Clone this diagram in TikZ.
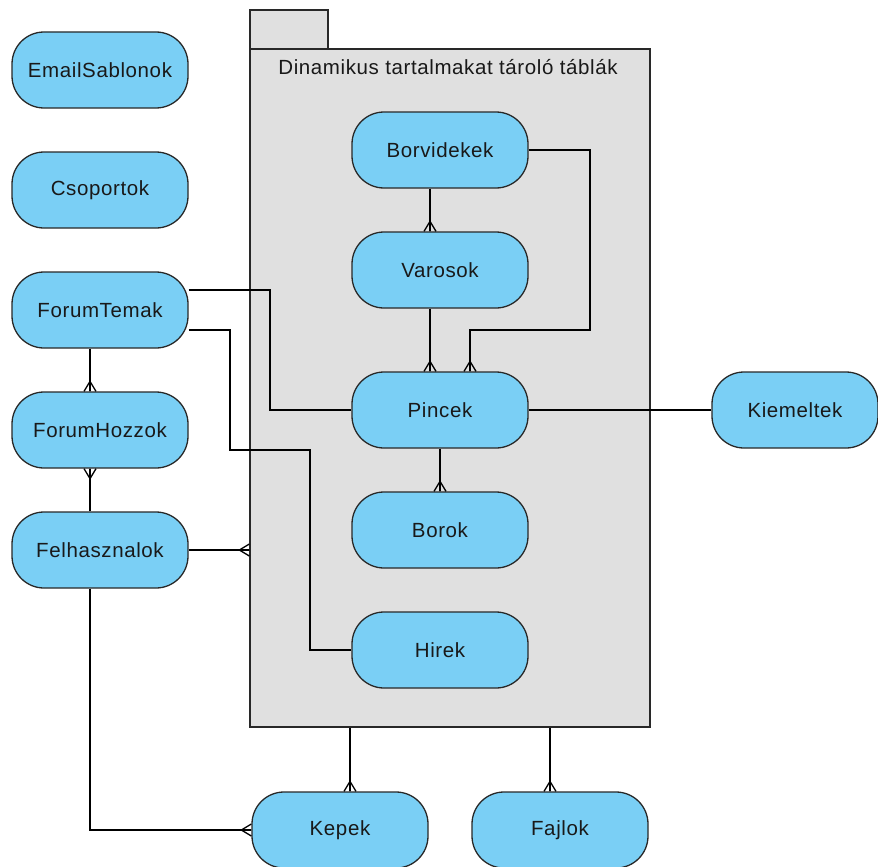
\documentclass[tikz,border=0pt]{standalone}
\usepackage{fontspec}
\setmainfont[LetterSpace=3]{Liberation Sans}
\definecolor{entblue}{RGB}{122,207,245}
\definecolor{pkgfill}{RGB}{224,224,224}
\definecolor{boxline}{RGB}{40,40,40}
\definecolor{txt}{RGB}{25,25,25}
\begin{document}
\begin{tikzpicture}[x=1pt,y=-1pt,
  ent/.style={draw=boxline, fill=entblue, line width=1.3pt, rounded corners=32pt,
    minimum width=176pt, minimum height=76pt, inner sep=0pt,
    font=\fontsize{20.5}{23}\selectfont, text=txt},
  pkgbox/.style={draw=boxline, fill=pkgfill, line width=1.3pt, inner sep=0pt},
  conn/.style={line width=1.3pt, draw=black},
  crowfoot/.pic={\draw[conn] (-6pt,0)--(0,10pt)--(6pt,0) (0,0)--(0,10pt);}
]
\useasboundingbox (0,0) rectangle (878,867);
% package
\node[pkgbox, minimum width=78pt, minimum height=39pt] (tab) at (289,29.5) {};
\node[pkgbox, minimum width=400pt, minimum height=678pt] (pkg) at (450,388) {};
\node[font=\fontsize{20.5}{23}\selectfont, text=txt] (title) at (448,67) {Dinamikus tartalmakat tároló táblák};
% entities
\node[ent] (email) at (100,70) {EmailSablonok};
\node[ent] (csop) at (100,190) {Csoportok};
\node[ent] (ftem) at (100,310) {ForumTemak};
\node[ent] (fhoz) at (100,430) {ForumHozzok};
\node[ent] (felh) at (100,550) {Felhasznalok};
\node[ent] (borv) at (440,150) {Borvidekek};
\node[ent] (var) at (440,270) {Varosok};
\node[ent] (pinc) at (440,410) {Pincek};
\node[ent] (borok) at (440,530) {Borok};
\node[ent] (hirek) at (440,650) {Hirek};
\node[ent, minimum width=166pt] (kiem) at (795,410) {Kiemeltek};
\node[ent] (kepek) at (340,830) {Kepek};
\node[ent] (fajlok) at (560,830) {Fajlok};
% helper coordinates
\coordinate (kx) at ([xshift=10pt]kepek.north);
\coordinate (fx) at ([xshift=-10pt]fajlok.north);
% connectors
\draw[conn] ([xshift=-10pt]borv.south) -- ([xshift=-10pt]var.north);
\pic at ([xshift=-10pt]var.north) {crowfoot};
\draw[conn] ([xshift=-10pt]var.south) -- ([xshift=-10pt]pinc.north);
\pic at ([xshift=-10pt]pinc.north) {crowfoot};
\draw[conn] (borv.east) -| (590,330) -| ([xshift=30pt]pinc.north);
\pic at ([xshift=30pt]pinc.north) {crowfoot};
\draw[conn] (pinc.south) -- (borok.north);
\pic at (borok.north) {crowfoot};
\draw[conn] (pinc.east) -- (kiem.west);
\draw[conn] ([yshift=20pt]ftem.east) -| (270,410) -- (pinc.west);
\draw[conn] ([yshift=-20pt]ftem.east) -| (230,450) -| (310,650) -- (hirek.west);
\draw[conn] ([xshift=-10pt]ftem.south) -- ([xshift=-10pt]fhoz.north);
\pic at ([xshift=-10pt]fhoz.north) {crowfoot};
\draw[conn] ([xshift=-10pt]felh.north) -- ([xshift=-10pt]fhoz.south);
\pic[rotate=180] at ([xshift=-10pt]fhoz.south) {crowfoot};
\draw[conn] (felh.east) -- (felh.east -| pkg.west);
\pic[rotate=90] at (felh.east -| pkg.west) {crowfoot};
\draw[conn] ([xshift=-10pt]felh.south) |- (kepek.west);
\pic[rotate=90] at (kepek.west) {crowfoot};
\draw[conn] (kx |- pkg.south) -- (kx);
\pic at (kx) {crowfoot};
\draw[conn] (fx |- pkg.south) -- (fx);
\pic at (fx) {crowfoot};
\end{tikzpicture}
\end{document}
